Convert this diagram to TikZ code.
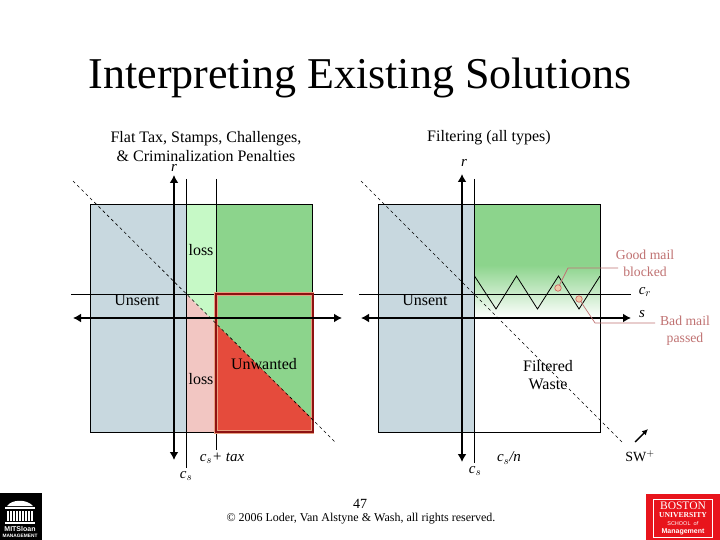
\documentclass[tikz,border=0pt]{standalone}
\usepackage{fontspec}
\setmainfont{Liberation Serif}
\newfontfamily\sansf{Liberation Sans}
\usetikzlibrary{arrows.meta}
\definecolor{unsentc}{HTML}{C8D8DF}
\definecolor{greenc}{HTML}{8CD48C}
\definecolor{lgreenc}{HTML}{C6F9C6}
\definecolor{pinkc}{HTML}{F2C6C2}
\definecolor{redc}{HTML}{E54B3C}
\definecolor{boxc}{HTML}{8E1212}
\definecolor{haloc}{HTML}{E8A080}
\definecolor{leadc}{HTML}{C07272}
\definecolor{ringc}{HTML}{F0C8A8}
\definecolor{burED}{HTML}{E8141C}
\tikzset{
 axisline/.style={line width=2.1pt,{Latex[length=8pt,width=9pt]}-{Latex[length=8pt,width=9pt]},black},
 thinline/.style={line width=0.8pt,black},
 diagline/.style={line width=0.6pt,black,dash pattern=on 3pt off 3pt},
 lab/.style={font=\fontsize{16}{18}\selectfont,inner sep=0pt,align=center},
 mathlab/.style={font=\fontsize{15}{17}\selectfont\itshape,inner sep=0pt},
 leadlab/.style={font=\fontsize{13.7}{17}\selectfont,inner sep=0pt,align=center,text=leadc},
 leader/.style={line width=0.7pt,leadc},
 ringmark/.style={circle,draw=leadc!80!red,fill=ringc,line width=0.6pt,inner sep=0pt,minimum size=6.5pt},
}
\begin{document}
\begin{tikzpicture}[x=1pt,y=-1pt]
\useasboundingbox (0,0) rectangle (720,540);
\fill[white] (0,0) rectangle (720,540);
\node[inner sep=0pt,font=\fontsize{44}{48}\selectfont] (title) at (360,78) {Interpreting Existing Solutions};
% ---- left panel
\fill[unsentc] (90.5,204) rectangle (186,432);
\fill[lgreenc] (186,204) -- (216,204) -- (216,324) -- (186,294) -- cycle;
\fill[pinkc] (186,294) -- (216,324) -- (216,432) -- (186,432) -- cycle;
\fill[greenc] (216,204) rectangle (312.5,432);
\fill[redc] (216,324) -- (312.5,419) -- (312.5,432) -- (216,432) -- cycle;
\draw[thinline] (90.5,204) rectangle (312.5,432);
\draw[thinline] (71,294) coordinate (lha) -- (343,294) coordinate (lhb);
\draw[thinline] (186,179) coordinate (lva) -- (186,468) coordinate (lvb);
\draw[thinline] (216,179) coordinate (lwa) -- (216,450) coordinate (lwb);
\draw[line width=3.2pt,haloc] (216,294) rectangle (312.5,432);
\draw[line width=2pt,boxc] (216,294) rectangle (312.5,432);
\draw[diagline] (73,181) coordinate (lda) -- (336,443) coordinate (ldb);
\coordinate (lxa) at (73,318); \coordinate (lxb) at (342,318);
\coordinate (lya) at (174,175); \coordinate (lyb) at (174,460);
\draw[axisline] (lxa) -- (lxb);
\draw[axisline] (lya) -- (lyb);
\node[lab] (ltitle) at (206,146.5) {Flat Tax, Stamps, Challenges,\\[0.5pt]\& Criminalization Penalties};
\node[mathlab] (lr) at (174,168) {r};
\node[lab] (loss1) at (201,250) {loss};
\node[lab] (loss2) at (201,379) {loss};
\node[lab] (uns1) at (137,300) {Unsent};
\node[lab] (unw) at (264,364) {Unwanted};
\node[mathlab] (cstax) at (222,458) {c$_{s}$+ tax};
\node[mathlab] (cs1) at (186,476) {c$_{s}$};
% ---- right panel
\fill[unsentc] (378.5,204) rectangle (474.5,432);
\fill[greenc] (474.5,204) rectangle (600.5,265);
\shade[top color=greenc,bottom color=white] (474.5,265) rectangle (600.5,318);
\draw[thinline] (378.5,204) rectangle (600.5,432);
\draw[thinline] (359,294) coordinate (rha) -- (631,294) coordinate (rhb);
\draw[thinline] (474.5,179) coordinate (rva) -- (474.5,463) coordinate (rvb);
\draw[thinline] (474.5,276) -- (496,309) -- (516.5,276) -- (537.5,309) -- (558.5,276) -- (579,309) -- (600,276);
\draw[diagline] (361,181) coordinate (rda) -- (624,444) coordinate (rdb);
\coordinate (rxa) at (361,318); \coordinate (rxb) at (631,318);
\coordinate (rya) at (462,174); \coordinate (ryb) at (462,462);
\draw[axisline] (rxa) -- (rxb);
\draw[axisline] (rya) -- (ryb);
\node[lab] (rtitle) at (489,138) {Filtering (all types)};
\node[mathlab] (rr) at (464,163) {r};
\node[lab] (uns2) at (425,300) {Unsent};
\node[lab] (filt) at (548,375) {Filtered\\[0.5pt]Waste};
\node[mathlab] (cs2) at (475,471) {c$_{s}$};
\node[mathlab] (csn) at (509,458) {c$_{s}$/n};
\node[ringmark] (ga) at (558,288) {};
\node[ringmark] (ba) at (579,299) {};
\node[leadlab] (good) at (645,263) {Good mail\\blocked};
\node[leadlab] (bad) at (685,331) {Bad mail\\passed};
\coordinate (gb) at (568,268); \coordinate (gc) at (618,268);
\coordinate (bb) at (595,323); \coordinate (bc) at (655,323);
\draw[leader] (ga) -- (gb) -- (gc);
\draw[leader] (ba) -- (bb) -- (bc);
\node[mathlab] (cr) at (645,292) {c$_{r}$};
\node[mathlab] (ss) at (642,314) {s};
\node[inner sep=0pt,font=\fontsize{14}{16}\selectfont] (sw) at (640,456) {SW$^{+}$};
\coordinate (swa) at (635,442); \coordinate (swb) at (648,429);
\draw[line width=1.4pt,-{Latex[length=6pt,width=6pt]}] (swa) -- (swb);
% ---- footer
\node[inner sep=0pt,font=\fontsize{14}{15}\selectfont] (pg) at (360,503.5) {47};
\node[inner sep=0pt,font=\fontsize{12}{13}\selectfont] (copy) at (361,518.5) {© 2006 Loder, Van Alstyne \& Wash, all rights reserved.};
% MIT logo
\fill[black] (0,493) rectangle (42,540);
\fill[white] (7,506) .. controls (12,499) and (27,499) .. (33,506) -- cycle;
\fill[white] (5,507) rectangle (35,509);
\foreach \x in {7,10,13,16,19,22,25,28,31} \fill[white] (\x,511) rectangle (\x+1.5,521);
\fill[white] (5,522) rectangle (35,523.5);
\node[inner sep=0pt,text=white,font=\sansf\bfseries\fontsize{7}{7}\selectfont] (mit) at (20,529) {MITSloan};
\node[inner sep=0pt,text=white,font=\sansf\bfseries\fontsize{4.8}{5}\selectfont] (mgt) at (20,536) {MANAGEMENT};
% BU logo
\fill[burED] (646,494) rectangle (720,540);
\draw[white,line width=0.6pt] (653,499) rectangle (712,537);
\node[inner sep=0pt,text=white,font=\fontsize{11.5}{12}\selectfont] (bu1) at (683,505.5) {BOSTON};
\node[inner sep=0pt,text=white,font=\bfseries\fontsize{7.6}{8}\selectfont] (bu2) at (683,515.5) {UNIVERSITY};
\node[inner sep=0pt,text=white,font=\sansf\fontsize{5.5}{6}\selectfont] (bu3) at (683,524) {SCHOOL\ \ \textit{of}};
\node[inner sep=0pt,text=white,font=\sansf\bfseries\fontsize{7}{7}\selectfont] (bu4) at (683,531.5) {Management};
\end{tikzpicture}
\end{document}
